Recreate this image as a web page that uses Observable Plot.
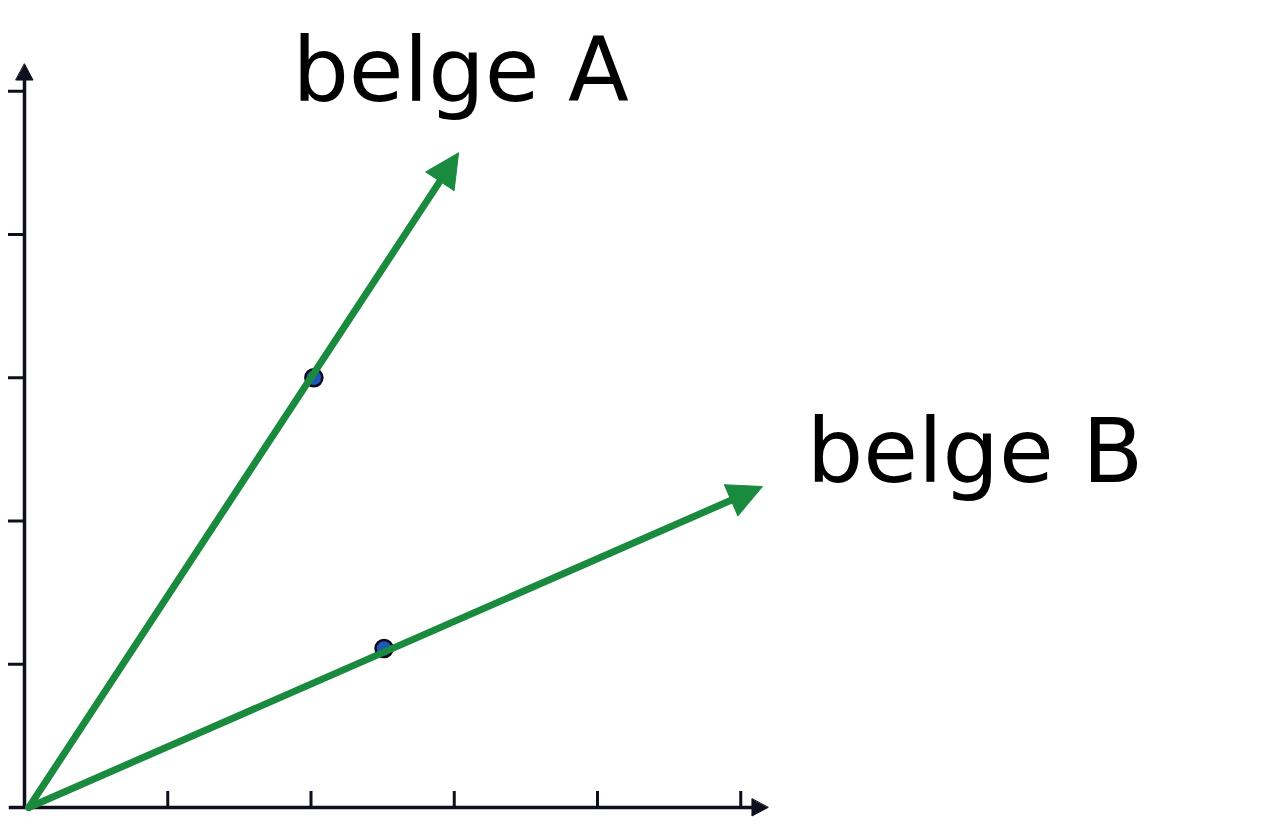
<!DOCTYPE html>
<html>
<head>
<meta charset="utf-8">
<script src="https://cdn.jsdelivr.net/npm/d3@7"></script>
<script src="https://cdn.jsdelivr.net/npm/@observablehq/plot@0.6"></script>
<style>
  html, body { margin: 0; padding: 0; background: #fff; }
  #chart svg { display: block; }
</style>
</head>
<body>
<div id="chart"></div>
<script>
// Vector names and data (axis units)
const vectors = ["belge A", "belge B"];
const originX = [0.03, 0.03];
const originY = [0, 0];
const tipX = [3.03, 5.15];
const tipY = [4.57, 2.24];
const pointX = [2.02, 2.51];
const pointY = [3.0, 1.11];
const labelX = [1.87, 5.46];
const labelY = [4.93, 2.27];
const ticks = [1, 2, 3, 4, 5];
const axisEnd = 5.19;

const green = "#1a8a3e";
const ink = "#0e0f1c";

const rows = vectors.map((name, i) => ({
  name, ox: originX[i], oy: originY[i], tx: tipX[i], ty: tipY[i], px: pointX[i], py: pointY[i], lx: labelX[i], ly: labelY[i],
  angle: Math.atan2(tipX[i] - originX[i], tipY[i] - originY[i]) * 180 / Math.PI
}));

function triangle(width) {
  return {
    draw(context, l) {
      context.moveTo(0, -l);
      context.lineTo(width / 2, 0);
      context.lineTo(-width / 2, 0);
      context.closePath();
    }
  };
}

const axisHeads = [
  {x: axisEnd, y: 0, angle: 90},
  {x: 0, y: axisEnd, angle: 0}
];

const chart = Plot.plot({
  width: 1280,
  height: 832,
  marginLeft: 24,
  marginBottom: 25,
  marginTop: 0,
  marginRight: 0,
  x: {domain: [0, 5], range: [24, 24 + 5 * 143.25], axis: null},
  y: {domain: [0, 5], range: [807, 807 - 5 * 143.25], axis: null},
  style: {background: "#fff"},
  marks: [
    // axis lines
    Plot.link([{x1: -0.11, y1: 0, x2: 5.1, y2: 0}], {x1: "x1", y1: "y1", x2: "x2", y2: "y2", stroke: ink, strokeWidth: 3.5}),
    Plot.link([{x1: 0, y1: 0, x2: 0, y2: 5.1}], {x1: "x1", y1: "y1", x2: "x2", y2: "y2", stroke: ink, strokeWidth: 3.5}),
    Plot.vector(axisHeads, {x: "x", y: "y", rotate: "angle", length: 16, anchor: "end", shape: triangle(17), fill: ink, stroke: ink, strokeWidth: 1}),
    // ticks
    Plot.axisX({ticks, tickSize: -16, tickFormat: () => "", stroke: ink, strokeWidth: 3}),
    Plot.axisY({ticks, tickSize: 16, tickFormat: () => "", stroke: ink, strokeWidth: 3}),
    // points
    Plot.dot(rows, {x: "px", y: "py", r: 8.5, fill: "#1f56b8", stroke: "#0a0a1a", strokeWidth: 2.5}),
    // vector shafts
    Plot.arrow(rows, {x1: "ox", y1: "oy", x2: "tx", y2: "ty", headLength: 0, insetEnd: 26, stroke: green, strokeWidth: 7, strokeLinecap: "round"}),
    // vector heads
    Plot.vector(rows, {x: "tx", y: "ty", rotate: "angle", length: 34, anchor: "end", shape: triangle(34), fill: green, stroke: green, strokeWidth: 1}),
    // labels
    Plot.text(rows, {x: "lx", y: "ly", text: "name", textAnchor: "start", lineAnchor: "bottom", fontSize: 89, fontFamily: "DejaVu Sans", fill: "#000"})
  ]
});

document.getElementById("chart").appendChild(chart);
</script>
</body>
</html>
